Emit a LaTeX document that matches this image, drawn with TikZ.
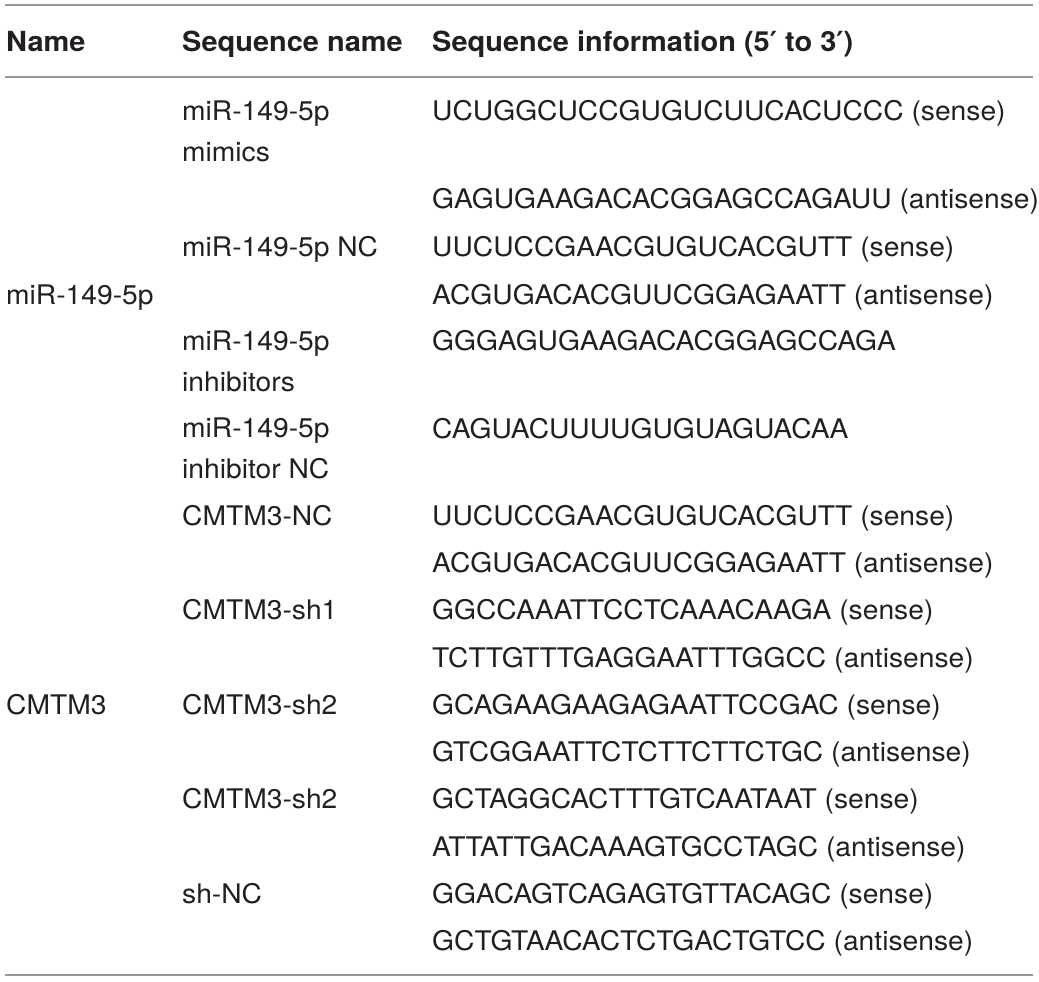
\documentclass[tikz,border=0pt]{standalone}
\usepackage{fontspec}
\setmainfont[FakeStretch=1.045]{TeX Gyre Heros}
\newfontfamily\primefont{DejaVu Sans}
\usepackage{tikz}
\usetikzlibrary{positioning}
\definecolor{tabtext}{RGB}{35,31,32}
\definecolor{tabrule}{RGB}{150,150,150}
\newcommand{\pr}{{\primefont\bfseries\symbol{"2032}}}
\tikzset{
  cell/.style={
    anchor=base west,
    inner sep=0pt,
    text=tabtext,
    align=left,
    font=\fontsize{27}{41}\selectfont
  },
  head/.style={
    cell,
    font=\fontsize{27.7}{34}\selectfont\bfseries
  },
  rule/.style={
    draw=tabrule,
    line width=1.6pt
  }
}
\begin{document}
\begin{tikzpicture}[x=1pt,y=-1pt]
      \useasboundingbox (0,0) rectangle (1039,982);
      % rules
      \coordinate (top_l) at (5,5);    \coordinate (top_r) at (1033,5);
      \coordinate (mid_l) at (5,77);   \coordinate (mid_r) at (1033,77);
      \coordinate (bot_l) at (5,975);  \coordinate (bot_r) at (1033,975);
      \draw[rule] (top_l) -- (top_r);
      \draw[rule] (mid_l) -- (mid_r);
      \draw[rule] (bot_l) -- (bot_r);
      % header
      \node[head] (h_name) at (6,52)   {Name};
      \node[head] (h_seqn) at (182,52) {Sequence name};
      \node[head] (h_seqi) at (432,52) {Sequence information (5\pr\ to 3\pr)};
      % first column
      \node[cell] (name_1) at (6,304) {miR-149-5p};
      \node[cell] (name_2) at (6,714) {CMTM3};
      % second column (two-line cells sit on their last line)
      \node[cell] (sname_1) at (182,161) {miR-149-5p\\mimics};
      \node[cell] (sname_2) at (182,256) {miR-149-5p NC};
      \node[cell] (sname_3) at (182,391) {miR-149-5p\\inhibitors};
      \node[cell] (sname_4) at (182,478) {miR-149-5p\\inhibitor NC};
      \node[cell] (sname_5) at (182,525) {CMTM3-NC};
      \node[cell] (sname_6) at (182,619) {CMTM3-sh1};
      \node[cell] (sname_7) at (182,714) {CMTM3-sh2};
      \node[cell] (sname_8) at (182,808) {CMTM3-sh2};
      \node[cell] (sname_9) at (182,903) {sh-NC};
      % third column
      \node[cell] (seq_1)  at (432,120) {UCUGGCUCCGUGUCUUCACUCCC (sense)};
      \node[cell] (seq_2)  at (432,208) {GAGUGAAGACACGGAGCCAGAUU (antisense)};
      \node[cell] (seq_3)  at (432,256) {UUCUCCGAACGUGUCACGUTT (sense)};
      \node[cell] (seq_4)  at (432,304) {ACGUGACACGUUCGGAGAATT (antisense)};
      \node[cell] (seq_5)  at (432,350) {GGGAGUGAAGACACGGAGCCAGA};
      \node[cell] (seq_6)  at (432,438) {CAGUACUUUUGUGUAGUACAA};
      \node[cell] (seq_7)  at (432,525) {UUCUCCGAACGUGUCACGUTT (sense)};
      \node[cell] (seq_8)  at (432,572) {ACGUGACACGUUCGGAGAATT (antisense)};
      \node[cell] (seq_9)  at (432,619) {GGCCAAATTCCTCAAACAAGA (sense)};
      \node[cell] (seq_10) at (432,667) {TCTTGTTTGAGGAATTTGGCC (antisense)};
      \node[cell] (seq_11) at (432,714) {GCAGAAGAAGAGAATTCCGAC (sense)};
      \node[cell] (seq_12) at (432,761) {GTCGGAATTCTCTTCTTCTGC (antisense)};
      \node[cell] (seq_13) at (432,808) {GCTAGGCACTTTGTCAATAAT (sense)};
      \node[cell] (seq_14) at (432,856) {ATTATTGACAAAGTGCCTAGC (antisense)};
      \node[cell] (seq_15) at (432,903) {GGACAGTCAGAGTGTTACAGC (sense)};
      \node[cell] (seq_16) at (432,950) {GCTGTAACACTCTGACTGTCC (antisense)};
\end{tikzpicture}
\end{document}
